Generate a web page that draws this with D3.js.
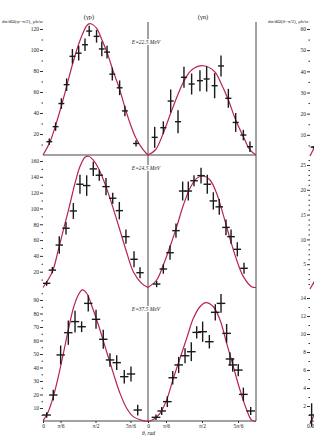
<!DOCTYPE html>
<html>
<head>
<meta charset="utf-8">
<script src="https://cdn.jsdelivr.net/npm/d3@7"></script>
<style>
  body { margin: 0; background: #fff; }
  svg { display: block; }
  text { font-family: "Liberation Serif", "DejaVu Serif", serif; fill: #222; }
</style>
</head>
<body>
<svg id="chart" width="314" height="444"></svg>
<script>
// angle axis (θ in units of π)
const angleTicks = [0, 1 / 6, 1 / 2, 5 / 6];
const angleTickLabels = ['0', 'π/6', 'π/2', '5π/6'];
const reactions = ['(γp)', '(γn)'];
const energies = ['E=22.5 MeV', 'E=24.5 MeV', 'E=37.5 MeV'];

// measured points: [θ/π, dσ/dΩ (μb/sr), error]
const p225 = [[.06, 12.7, 3], [.12, 27, 4], [.175, 49, 5], [.225, 67, 6], [.28, 94, 7], [.34, 97, 7], [.40, 105, 6],
  [.44, 118, 5], [.51, 113, 6], [.56, 101, 7], [.61, 98, 6], [.66, 77, 6], [.73, 64, 7], [.78, 42, 5], [.886, 11, 3]];
const n225 = [[.062, 16.8, 10], [.142, 26, 6], [.21, 51.4, 11], [.278, 31.7, 11], [.333, 74, 10], [.404, 67.6, 10],
  [.481, 70.8, 10], [.543, 72.4, 12], [.617, 66, 12], [.676, 84.8, 10], [.744, 54, 9], [.812, 31, 9], [.883, 19, 5], [.944, 7.9, 5]];
const p245 = [[.035, 5.3, 3], [.089, 22, 4], [.155, 53.7, 11], [.219, 75, 8], [.289, 96.8, 10], [.352, 130.6, 12],
  [.416, 128.9, 13], [.479, 150, 9], [.536, 142, 7], [.60, 127.6, 11], [.664, 112.9, 7], [.727, 97.2, 11],
  [.79, 64.3, 9], [.867, 35.7, 10], [.924, 18.7, 7]];
const n245 = [[.08, 4.4, 4], [.142, 23.4, 6], [.204, 44, 9], [.259, 71.9, 9], [.321, 122, 12], [.373, 122, 12],
  [.426, 135, 7], [.491, 141.5, 10], [.549, 130.6, 12], [.605, 109.5, 11], [.66, 102, 10], [.722, 76, 10],
  [.769, 64.3, 9], [.827, 48.3, 9], [.889, 24.3, 7]];
const p375 = [[.035, 4.8, 2], [.098, 19.6, 4], [.168, 49.3, 7], [.241, 65.8, 9], [.305, 74, 8], [.368, 70.2, 4],
  [.431, 87.5, 6], [.505, 75.7, 7], [.574, 60.9, 7], [.638, 45.6, 5], [.702, 43.6, 5.5], [.774, 33.2, 5],
  [.838, 35.2, 5.5], [.902, 8.5, 4]];
const n375 = [[.074, 3.1, 2], [.127, 7.8, 3], [.179, 14.7, 4], [.229, 32.4, 5], [.284, 41.9, 6], [.343, 48.7, 5.5],
  [.401, 51.7, 7], [.451, 66, 4.5], [.506, 66.5, 7.5], [.568, 59.1, 5], [.623, 80.9, 6], [.676, 87.5, 7],
  [.728, 65.3, 7], [.759, 46.3, 5], [.784, 41.9, 5], [.836, 38.1, 4.5], [.883, 20.1, 5], [.951, 7.8, 3]];

// calculated curves: [θ/π, dσ/dΩ]
const p225Fit = [[0, 0], [.067, 12.7], [.121, 28.6], [.175, 46.7], [.226, 65.7], [.279, 85.7], [.337, 104.8],
  [.384, 117], [.422, 123.8], [.455, 125], [.511, 120.6], [.562, 109.5], [.613, 96.8], [.67, 79.4], [.727, 63.5],
  [.778, 46], [.829, 30.2], [.886, 15.9], [.955, 4.8], [1, 0]];
const n225Fit = [[0, 0], [.07, 5], [.142, 21], [.21, 39.7], [.278, 57.8], [.333, 70.5], [.404, 81], [.512, 85],
  [.617, 79.4], [.676, 68.3], [.744, 52.4], [.812, 33.3], [.883, 17.4], [.944, 4.8], [1, 0]];
const p245Fit = [[0, 0], [.089, 20], [.146, 47.5], [.194, 72.8], [.25, 102], [.305, 132], [.352, 153], [.4, 164.8],
  [.435, 166], [.479, 161], [.536, 148.7], [.6, 127.6], [.664, 102], [.727, 75], [.79, 47.5], [.86, 20], [.94, 5.3], [1, 0]];
const n245Fit = [[0, 0], [.08, 9.5], [.142, 28.5], [.204, 51.6], [.266, 77], [.327, 104], [.389, 125.6], [.451, 138],
  [.512, 141], [.574, 136], [.636, 119], [.697, 91.8], [.759, 62], [.821, 34.8], [.883, 13.7], [.96, 1], [1, 0]];
const p375Fit = [[0, 0.5], [.05, 7.3], [.098, 18.4], [.146, 33.2], [.194, 50.5], [.241, 67.8], [.289, 83.9],
  [.336, 93.7], [.375, 97.5], [.416, 95], [.479, 82.6], [.543, 67.8], [.606, 51.7], [.67, 35.7], [.733, 20.9],
  [.797, 9.8], [.86, 3.6], [.955, 0.6], [1, 0]];
const n375Fit = [[0, 0], [.05, 1.5], [.111, 6], [.173, 16], [.235, 32], [.296, 46.8], [.358, 61.6], [.42, 76.4],
  [.481, 85], [.537, 88], [.605, 85], [.667, 75.2], [.728, 58], [.79, 40.6], [.852, 23.3], [.914, 8.5], [.96, 1], [1, 0]];

// third (cut off) column: only the start of each panel is visible
const sideFits = [[[0, 0], [.045, 4.5]], [[0, 0], [.045, 1.7]], [[0, 0], [.05, 1.3]]];
const sidePoints = [[[.03, 4.2, 0.5]], [], [[.015, 1.0, 1.3]]];

const svg = d3.select('#chart');
const red = '#b8234f';
const ink = '#1a1a1a';

const xScales = [
  d3.scaleLinear().domain([0, 1]).range([43, 148]),
  d3.scaleLinear().domain([0, 1]).range([148, 256])
];
const xSide = d3.scaleLinear().domain([0, 1]).range([310, 418]);

const rows = [
  { y: d3.scaleLinear().domain([0, 120]).range([155, 29]), major: d3.range(20, 121, 20), minor: d3.range(10, 120, 20),
    dt: 0.028, data: [p225, n225], fits: [p225Fit, n225Fit], labelY: 42,
    side: d3.scaleLinear().domain([0, 60]).range([156, 29]), sideMajor: d3.range(10, 61, 10), sideMinor: d3.range(5, 60, 10) },
  { y: d3.scaleLinear().domain([0, 160]).range([287.5, 161]), major: d3.range(20, 161, 20), minor: d3.range(10, 160, 20),
    dt: 0.035, data: [p245, n245], fits: [p245Fit, n245Fit], labelY: 168,
    side: d3.scaleLinear().domain([0, 25]).range([289, 165]), sideMajor: d3.range(5, 26, 5), sideMinor: d3.range(1, 27).filter(d => d % 5) },
  { y: d3.scaleLinear().domain([0, 90]).range([421.5, 300]), major: d3.range(10, 91, 10), minor: d3.range(5, 96, 10),
    dt: 0.04, data: [p375, n375], fits: [p375Fit, n375Fit], labelY: 309,
    side: d3.scaleLinear().domain([0, 14]).range([424, 298]), sideMajor: d3.range(2, 15, 2), sideMinor: d3.range(1, 15, 2) }
];

// frame lines
const frame = [[148, 22, 148, 421], [256, 22, 256, 421], [43, 155, 256, 155], [43, 421, 256, 421], [310, 421, 314, 421]];
frame.forEach(([x1, y1, x2, y2]) => {
  svg.append('line').attr('x1', x1).attr('y1', y1).attr('x2', x2).attr('y2', y2)
    .attr('stroke', '#444').attr('stroke-width', 1);
});

function styleAxis(g) {
  g.select('.domain').remove();
  g.selectAll('line').attr('stroke', '#333');
  g.selectAll('text').attr('font-size', 5.5).attr('fill', '#222')
    .style('font-family', '"Liberation Serif", serif');
}

const line = d3.line().curve(d3.curveCatmullRom.alpha(0.5));

rows.forEach((row, r) => {
  // left value axis
  svg.append('g').attr('transform', 'translate(43,0)')
    .call(d3.axisLeft(row.y).tickValues(row.major).tickSize(3).tickPadding(1))
    .call(styleAxis);
  svg.append('g').attr('transform', 'translate(43,0)')
    .call(d3.axisLeft(row.y).tickValues(row.minor).tickSize(1.5).tickFormat(''))
    .call(styleAxis);

  // side column axis
  svg.append('g').attr('transform', 'translate(310,0)')
    .call(d3.axisLeft(row.side).tickValues(row.sideMajor).tickSize(3).tickPadding(1))
    .call(styleAxis);
  svg.append('g').attr('transform', 'translate(310,0)')
    .call(d3.axisLeft(row.side).tickValues(row.sideMinor).tickSize(1.5).tickFormat(''))
    .call(styleAxis);

  svg.append('path')
    .attr('d', line(sideFits[r].map(d => [xSide(d[0]), row.side(d[1])])))
    .attr('fill', 'none').attr('stroke', red).attr('stroke-width', 1.2);
  sidePoints[r].forEach(([t, v, e]) => {
    svg.append('line').attr('x1', xSide(t)).attr('x2', xSide(t))
      .attr('y1', row.side(v - e)).attr('y2', row.side(v + e)).attr('stroke', ink).attr('stroke-width', 1.4);
    svg.append('line').attr('x1', xSide(t - 0.025)).attr('x2', xSide(t + 0.025))
      .attr('y1', row.side(v)).attr('y2', row.side(v)).attr('stroke', ink).attr('stroke-width', 1.4);
  });

  xScales.forEach((x, c) => {
    svg.append('path')
      .attr('d', line(row.fits[c].map(d => [x(d[0]), row.y(d[1])])))
      .attr('fill', 'none').attr('stroke', red).attr('stroke-width', 1.2);

    row.data[c].forEach(([t, v, e]) => {
      svg.append('line').attr('x1', x(t)).attr('x2', x(t))
        .attr('y1', row.y(v - e)).attr('y2', row.y(v + e))
        .attr('stroke', ink).attr('stroke-width', 1.4);
      svg.append('line').attr('x1', x(t - row.dt)).attr('x2', x(t + row.dt))
        .attr('y1', row.y(v)).attr('y2', row.y(v))
        .attr('stroke', ink).attr('stroke-width', 1.4);
    });
  });

  // energy label sits on the divider
  const lbl = svg.append('text').attr('x', 146).attr('y', row.labelY + 2)
    .attr('text-anchor', 'middle').attr('font-size', 5.5).attr('font-style', 'italic')
    .text(energies[r]);
  const bb = lbl.node().getBBox();
  svg.insert('rect', () => lbl.node())
    .attr('x', bb.x - 1).attr('y', bb.y).attr('width', bb.width + 2).attr('height', bb.height)
    .attr('fill', '#fff');
});

// angle axes
xScales.forEach((x) => {
  svg.append('g').attr('transform', 'translate(0,421)')
    .call(d3.axisBottom(x).tickValues(angleTicks).tickSize(2).tickPadding(1)
      .tickFormat((d, i) => angleTickLabels[i]))
    .call(styleAxis);
});
svg.append('g').attr('transform', 'translate(0,421)')
  .call(d3.axisBottom(xSide).tickValues([0]).tickSize(2).tickPadding(1))
  .call(styleAxis);

// titles
reactions.forEach((name, c) => {
  svg.append('text').attr('x', c === 0 ? 89 : 203).attr('y', 19)
    .attr('text-anchor', 'middle').attr('font-size', 6.5).text(name);
});
svg.append('text').attr('x', 2).attr('y', 23).attr('font-size', 5).text('dσ/dΩ(φ=π/2), μb/sr');
svg.append('text').attr('x', 268).attr('y', 23).attr('font-size', 5).text('dσ/dΩ(θ=π/2), μb/sr');
svg.append('text').attr('x', 142).attr('y', 435).attr('font-size', 5.5).attr('font-style', 'italic').text('θ, rad');
</script>
</body>
</html>
